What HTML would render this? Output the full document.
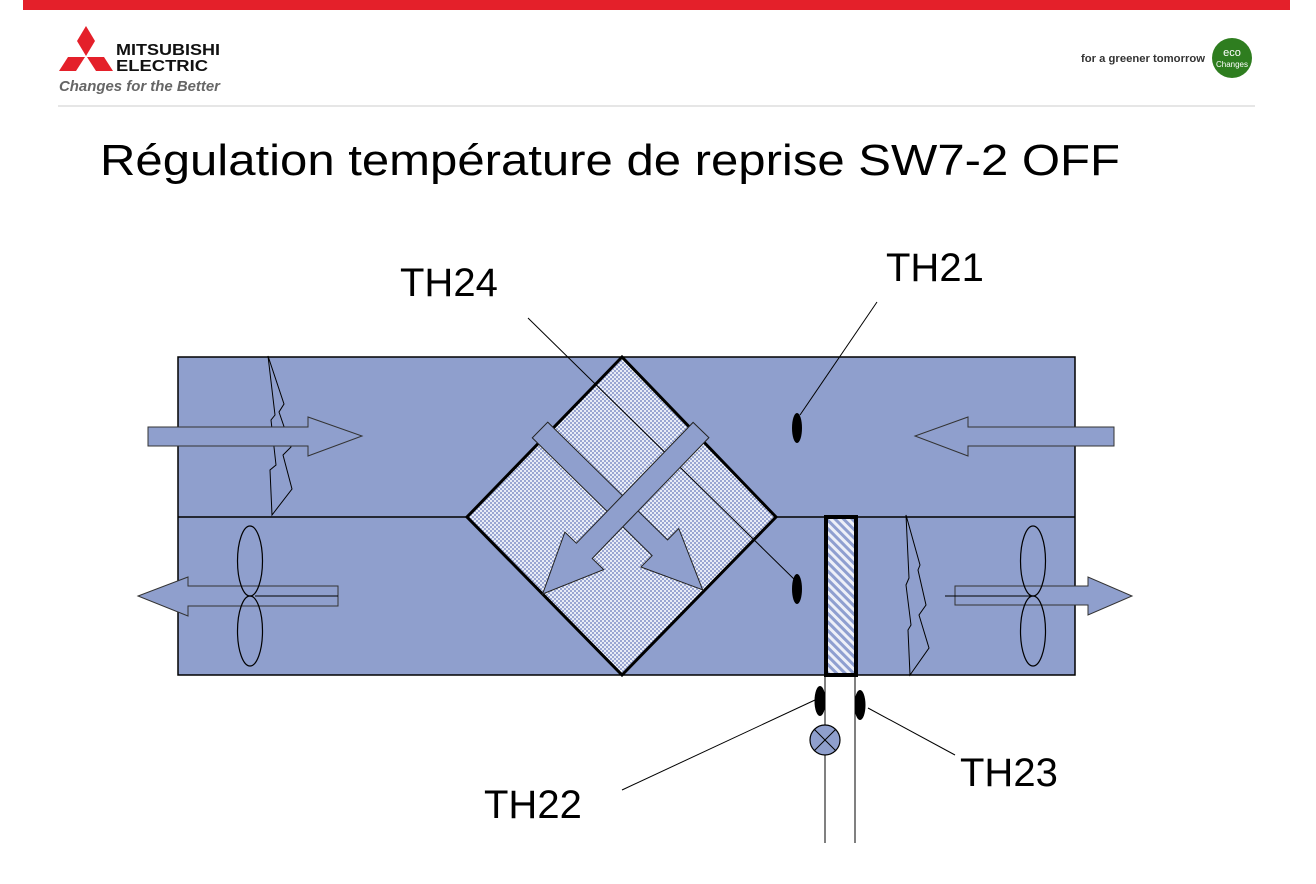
<!DOCTYPE html>
<html><head><meta charset="utf-8"><style>
html,body{margin:0;padding:0;background:#fff;}
svg{display:block;}
text{font-family:"Liberation Sans",Arial,sans-serif;}
</style></head><body>
<svg width="1316" height="884" viewBox="0 0 1316 884" xmlns="http://www.w3.org/2000/svg">
<defs>
<pattern id="chk" width="4" height="4" patternUnits="userSpaceOnUse">
<rect width="4" height="4" fill="#e8ecf6"/><rect width="2" height="2" fill="#9aa6d2"/><rect x="2" y="2" width="2" height="2" fill="#9aa6d2"/>
</pattern>
<pattern id="diag" width="6" height="6" patternUnits="userSpaceOnUse" patternTransform="rotate(-45)">
<rect width="6" height="6" fill="#eef0f8"/><rect width="3" height="6" fill="#8f9fd0"/>
</pattern>
</defs>
<rect x="23" y="0" width="1267" height="10" fill="#e4202a"/>
<!-- logo -->
<polygon points="86,26 95,41 86,56 77,41" fill="#e4202a"/>
<polygon points="59,71 68,57 85,57 76,71" fill="#e4202a"/>
<polygon points="87,57 104,57 113,71 96,71" fill="#e4202a"/>
<text x="116" y="55" font-size="16" font-weight="bold" fill="#111" textLength="104" lengthAdjust="spacingAndGlyphs">MITSUBISHI</text>
<text x="116" y="71" font-size="16" font-weight="bold" fill="#111" textLength="92" lengthAdjust="spacingAndGlyphs">ELECTRIC</text>
<text x="59" y="91" font-size="15" font-style="italic" font-weight="bold" fill="#666" textLength="161" lengthAdjust="spacingAndGlyphs">Changes for the Better</text>
<text x="1081" y="62" font-size="11" font-weight="bold" fill="#333" textLength="124" lengthAdjust="spacingAndGlyphs">for a greener tomorrow</text>
<circle cx="1232" cy="58" r="20" fill="#2e7d1f"/>
<text x="1232" y="56" font-size="11" fill="#fff" text-anchor="middle" font-family="Liberation Serif">eco</text>
<text x="1232" y="67" font-size="8" fill="#fff" text-anchor="middle" font-family="Liberation Serif">Changes</text>
<line x1="58" y1="106" x2="1255" y2="106" stroke="#ccc" stroke-width="1"/>
<text x="100" y="175" font-size="44" fill="#000" textLength="1020" lengthAdjust="spacingAndGlyphs">Régulation température de reprise SW7-2 OFF</text>

<!-- box -->
<rect x="178" y="357" width="897" height="318" fill="#8f9fcd" stroke="#000" stroke-width="1.5"/>
<line x1="178" y1="517" x2="1075" y2="517" stroke="#000" stroke-width="1.5"/>

<!-- left filter -->
<polygon points="268,356 284,404 279,412 291,447 283,455 292,489 272,515 270,470 276,465 271,420 275,415" fill="#8f9fcd" stroke="#000" stroke-width="1"/>
<polygon points="148,427 308,427 308,417 362,436 308,456 308,446 148,446" fill="#8f9fcd" stroke="#333" stroke-width="1"/>
<polygon points="1114,427 968,427 968,417 915,436 968,456 968,446 1114,446" fill="#8f9fcd" stroke="#333" stroke-width="1"/>

<polygon points="338,586 188,586 188,577 138,596 188,616 188,606 338,606" fill="#8f9fcd" stroke="#333" stroke-width="1"/>
<line x1="255" y1="596" x2="338" y2="596" stroke="#000"/>
<ellipse cx="250" cy="561" rx="12.5" ry="35" fill="none" stroke="#000" stroke-width="1.2"/>
<ellipse cx="250" cy="631" rx="12.5" ry="35" fill="none" stroke="#000" stroke-width="1.2"/>

<polygon points="906,515 920,565 918,570 926,605 919,615 929,648 910,675 908,630 911,625 906,585 909,578" fill="#8f9fcd" stroke="#000" stroke-width="1"/>
<polygon points="955,586 1088,586 1088,577 1132,596 1088,615 1088,605 955,605" fill="#8f9fcd" stroke="#333" stroke-width="1"/>
<line x1="945" y1="596" x2="1033" y2="596" stroke="#000"/>
<ellipse cx="1033" cy="561" rx="12.5" ry="35" fill="none" stroke="#000" stroke-width="1.2"/>
<ellipse cx="1033" cy="631" rx="12.5" ry="35" fill="none" stroke="#000" stroke-width="1.2"/>

<polygon points="622,357 776,517 622,675 467,517" fill="url(#chk)" stroke="#000" stroke-width="3"/>
<line x1="528" y1="318" x2="797" y2="582" stroke="#000" stroke-width="1"/>
<g transform="translate(540,430) rotate(44.5)">
<polygon points="0,-11 168,-11 168,-27 228,0 168,27 168,11 0,11" fill="#8f9fcd" stroke="#222" stroke-width="1"/>
</g>
<g transform="translate(701,430) rotate(134)">
<polygon points="0,-11 168,-11 168,-27 228,0 168,27 168,11 0,11" fill="#8f9fcd" stroke="#222" stroke-width="1"/>
</g>

<rect x="826" y="517" width="30" height="158" fill="url(#diag)" stroke="#000" stroke-width="4"/>

<line x1="825" y1="675" x2="825" y2="725" stroke="#000"/>
<line x1="825" y1="755" x2="825" y2="843" stroke="#000"/>
<line x1="855" y1="675" x2="855" y2="843" stroke="#000"/>
<circle cx="825" cy="740" r="15" fill="#8f9fcd" stroke="#000" stroke-width="1.2"/>
<line x1="814" y1="729" x2="836" y2="751" stroke="#000"/>
<line x1="836" y1="729" x2="814" y2="751" stroke="#000"/>

<ellipse cx="797" cy="428" rx="5" ry="15" fill="#000"/>
<ellipse cx="797" cy="589" rx="5" ry="15" fill="#000"/>
<ellipse cx="820" cy="701" rx="5.5" ry="15" fill="#000"/>
<ellipse cx="860" cy="705" rx="5.5" ry="15" fill="#000"/>

<line x1="877" y1="302" x2="800" y2="415" stroke="#000"/>
<line x1="622" y1="790" x2="815" y2="700" stroke="#000"/>
<line x1="868" y1="708" x2="955" y2="755" stroke="#000"/>

<text x="400" y="296" font-size="40">TH24</text>
<text x="886" y="281" font-size="40">TH21</text>
<text x="484" y="818" font-size="40">TH22</text>
<text x="960" y="786" font-size="40">TH23</text>
</svg>
</body></html>
